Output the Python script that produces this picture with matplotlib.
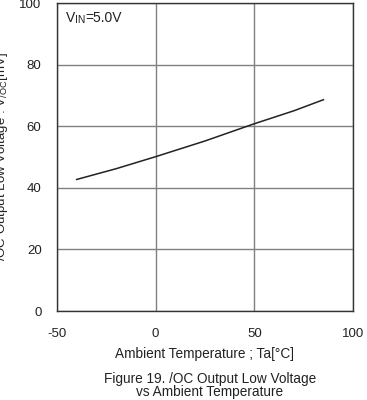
import matplotlib
matplotlib.use("Agg")
import matplotlib.pyplot as plt

plt.rcParams['font.family'] = ['Liberation Sans', 'DejaVu Sans']
plt.rcParams['axes.unicode_minus'] = False

temp = [-40, -20, 0, 25, 50, 70, 85]
vol_mv = [42.7, 46.2, 50.1, 55.2, 60.8, 65.0, 68.6]
xticks = [-50, 0, 50, 100]
yticks = [0, 20, 40, 60, 80, 100]

fig = plt.figure(figsize=(3.67, 4.0), dpi=100)
ax = fig.add_axes([0.155, 0.2225, 0.807, 0.77])
ax.plot(temp, vol_mv, color='#222222', lw=1.1)
ax.set_xlim(-50, 100)
ax.set_ylim(0, 100)
ax.set_xticks(xticks)
ax.set_yticks(yticks)
ax.grid(True, color='#808080', lw=1.0)
ax.tick_params(length=0, labelsize=9.5, colors='#222222')
ax.tick_params(axis='x', pad=12)
ax.tick_params(axis='y', pad=11)
for s in ax.spines.values():
    s.set_color('#333333')
    s.set_linewidth(1.0)
ax.set_xlabel('Ambient Temperature ; Ta[°C]', fontsize=9.8, labelpad=5, color='#222222')
ax.set_ylabel('/OC Output Low Voltage : V$_{\\mathregular{/OC}}$[mV]', fontsize=9.5, color='#222222')
ax.yaxis.set_label_coords(-0.158, 0.5)

t1 = ax.text(0.03, 0.975, 'V', transform=ax.transAxes, fontsize=10, va='top', ha='left', color='#222222')
t2 = ax.annotate('IN', xy=(1, 0), xycoords=t1, fontsize=7.5, va='bottom', ha='left', color='#222222')
ax.annotate('=5.0V', xy=(1, 0), xycoords=t2, fontsize=10, va='bottom', ha='left', color='#222222')

fig.text(0.572, 0.0025, 'Figure 19. /OC Output Low Voltage\nvs Ambient Temperature',
         ha='center', va='bottom', fontsize=9.8, linespacing=0.95, color='#222222')

fig.savefig('out.png', dpi=100)
